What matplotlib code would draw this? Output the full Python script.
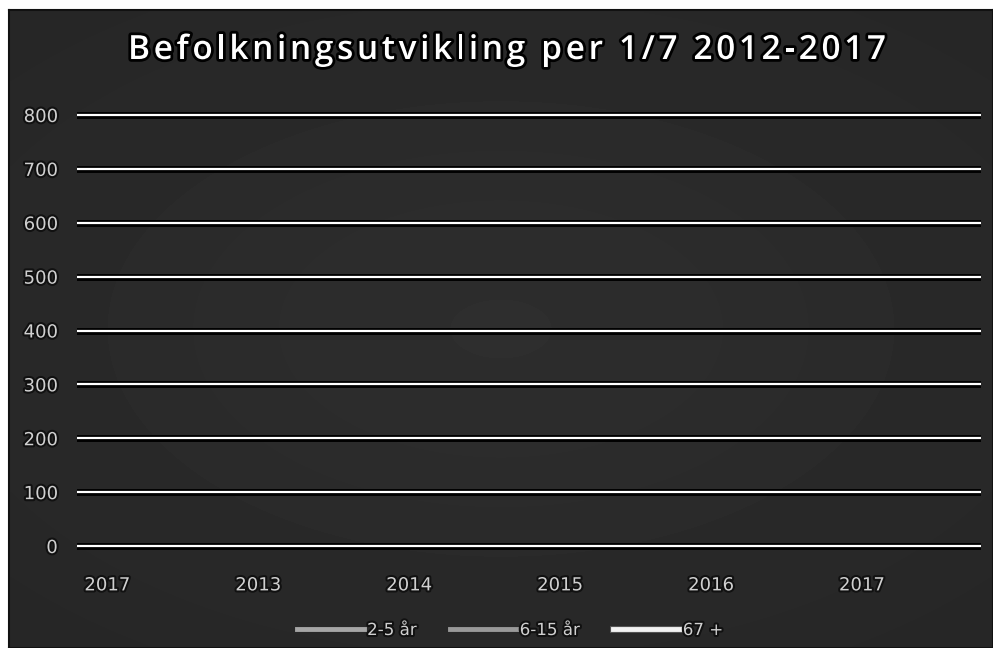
import numpy as np
import matplotlib
matplotlib.use("Agg")
import matplotlib.pyplot as plt
import matplotlib.patheffects as pe
from matplotlib import font_manager
from matplotlib.ft2font import FT2Font

# category labels as shown on the x axis
years = ["2017", "2013", "2014", "2015", "2016", "2017"]
yticks = [0, 100, 200, 300, 400, 500, 600, 700, 800]

# the data lines are not visible in the picture, only the legend is
serie_2_5 = [np.nan] * 6
serie_6_15 = [np.nan] * 6
serie_67 = [np.nan] * 6

title = "Befolkningsutvikling per 1/7 2012-2017"
W, H = 993, 648
txt = "#d0d0d0"

fig = plt.figure(figsize=(W/100, H/100), dpi=100)
fig.patch.set_facecolor("white")

# dark panel, a little lighter in the middle
bgax = fig.add_axes([9/W, 0, 1 - 9/W, 1 - 10/H], zorder=-10)
yy, xx = np.mgrid[-1:1:200j, -1:1:300j]
shade = 0.182 - 0.025 * np.clip(np.sqrt(xx**2 * 0.8 + yy**2), 0, 1.4)
bgax.imshow(shade, cmap="gray", vmin=0, vmax=1, aspect="auto", interpolation="bicubic")
bgax.set_xticks([])
bgax.set_yticks([])
for s in bgax.spines.values():
    s.set_color("#111111")
    s.set_linewidth(1.5)

ax = fig.add_axes([77/W, (H-551.4)/H, (981-77)/W, (551.4-109.6)/H])
ax.set_facecolor("none")
x = np.arange(len(years))
ax.plot(x, serie_2_5, color="#a6a6a6", lw=3.5, label="2-5 år")
ax.plot(x, serie_6_15, color="#999999", lw=3.5, label="6-15 år")
ax.plot(x, serie_67, color="#f2f2f2", lw=3.5, label="67 +",
        path_effects=[pe.withStroke(linewidth=5, foreground="#555555")])

ax.set_ylim(-10, 810)
ax.set_xlim(-0.2, 5.79)
ax.set_yticks(yticks)
ax.set_xticks(x)
ax.set_xticklabels(years)
for s in ax.spines.values():
    s.set_visible(False)
ax.tick_params(axis="both", length=0, colors=txt, labelsize=13)
ax.tick_params(axis="y", pad=14)
ax.tick_params(axis="x", pad=18)
ax.grid(axis="y", color="white", lw=1.6)
for gl in ax.get_ygridlines():
    gl.set_path_effects([pe.withStroke(linewidth=5, foreground="black")])
for lab in ax.get_xticklabels() + ax.get_yticklabels():
    lab.set_path_effects([pe.withStroke(linewidth=3, foreground="#111111")])

# letter-spaced title
fsize = 24
fprop = font_manager.FontProperties(family="Open Sans", weight="semibold")
ft = FT2Font(font_manager.findfont(fprop))
ft.set_size(fsize, 100)
adv = [ft.load_char(ord(c)).linearHoriAdvance / 65536 for c in title]
x0, x1 = 128, 886
gap = (x1 - x0 - sum(adv)) / (len(title) - 1)
pos = x0
for c, a in zip(title, adv):
    if c != " ":
        t = fig.text(pos/W, 1 - 59/H, c, ha="left", va="baseline", color="white",
                     fontsize=fsize, family="Open Sans", weight="semibold")
        t.set_path_effects([pe.withStroke(linewidth=4, foreground="black")])
    pos += a + gap

leg = fig.legend(loc="center", bbox_to_anchor=(510/W, 18/H), ncol=3, frameon=False,
                 fontsize=12, handlelength=4.0, handletextpad=0.2, columnspacing=2.0)
for tx in leg.get_texts():
    tx.set_color(txt)
    tx.set_path_effects([pe.withStroke(linewidth=3, foreground="#111111")])

fig.savefig("out.png", dpi=100, facecolor=fig.get_facecolor())
